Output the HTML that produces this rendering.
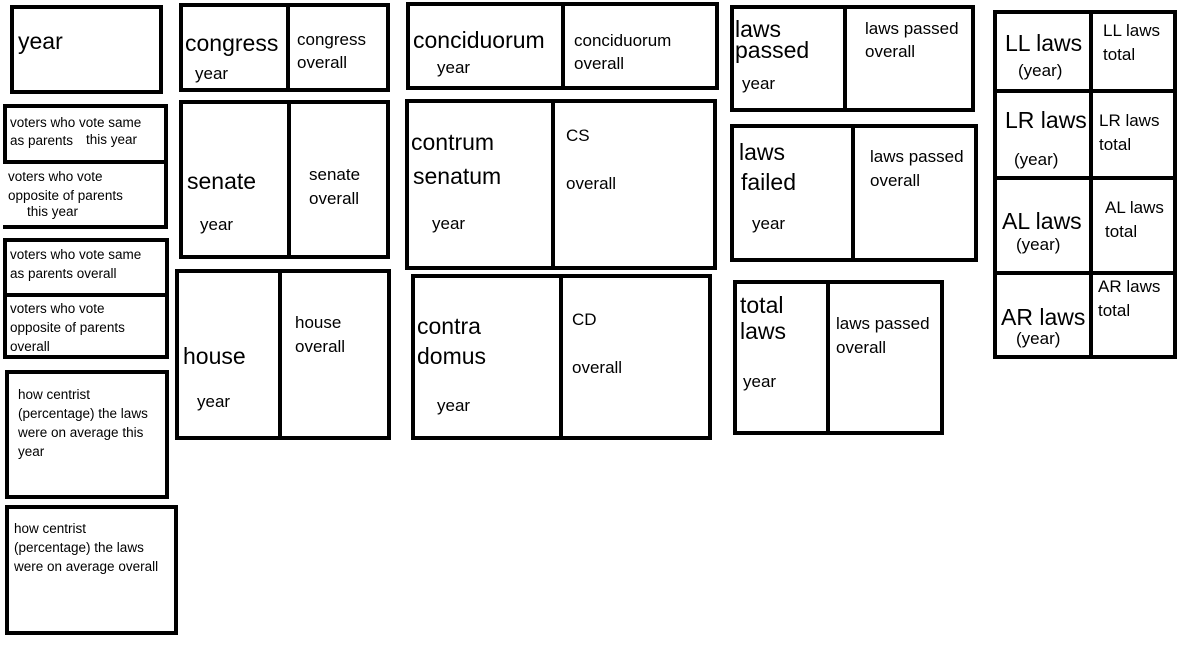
<!DOCTYPE html>
<html><head><meta charset="utf-8"><style>
body{margin:0;width:1185px;height:648px;background:#fff;position:relative;overflow:hidden;font-family:"Liberation Sans",sans-serif;color:#000}
.b{position:absolute;border:4px solid #000;box-sizing:border-box}
.v{position:absolute;width:4px;background:#000}
.h{position:absolute;height:4px;background:#000}
.t{position:absolute;line-height:1;white-space:nowrap}
.L{font-size:23px}.M{font-size:17px}.S{font-size:13.5px}
</style></head><body>
<!-- year -->
<div class="b" style="left:10px;top:5px;width:153px;height:89px"></div>
<div class="t L" style="left:18px;top:30px">year</div>
<!-- congress -->
<div class="b" style="left:179px;top:3px;width:211px;height:89px"></div>
<div class="v" style="left:286px;top:3px;height:89px"></div>
<div class="t L" style="left:185px;top:32px">congress</div>
<div class="t M" style="left:195px;top:65px">year</div>
<div class="t M" style="left:297px;top:31px">congress</div>
<div class="t M" style="left:297px;top:54px">overall</div>
<!-- conciduorum -->
<div class="b" style="left:406px;top:2px;width:313px;height:88px"></div>
<div class="v" style="left:561px;top:2px;height:88px"></div>
<div class="t L" style="left:413px;top:29px">conciduorum</div>
<div class="t M" style="left:437px;top:59px">year</div>
<div class="t M" style="left:574px;top:32px">conciduorum</div>
<div class="t M" style="left:574px;top:55px">overall</div>
<!-- laws passed -->
<div class="b" style="left:730px;top:5px;width:245px;height:107px"></div>
<div class="v" style="left:843px;top:5px;height:107px"></div>
<div class="t L" style="left:735px;top:18px">laws</div>
<div class="t L" style="left:735px;top:39px">passed</div>
<div class="t M" style="left:742px;top:75px">year</div>
<div class="t M" style="left:865px;top:20px">laws passed</div>
<div class="t M" style="left:865px;top:43px">overall</div>
<!-- LL grid -->
<div class="b" style="left:993px;top:10px;width:184px;height:349px"></div>
<div class="v" style="left:1089px;top:10px;height:349px"></div>
<div class="h" style="left:993px;top:89px;width:184px"></div>
<div class="h" style="left:993px;top:176px;width:184px"></div>
<div class="h" style="left:993px;top:271px;width:184px"></div>
<div class="t L" style="left:1005px;top:32px">LL laws</div>
<div class="t M" style="left:1018px;top:62px">(year)</div>
<div class="t M" style="left:1103px;top:22px">LL laws</div>
<div class="t M" style="left:1103px;top:46px">total</div>
<div class="t L" style="left:1005px;top:109px">LR laws</div>
<div class="t M" style="left:1014px;top:151px">(year)</div>
<div class="t M" style="left:1099px;top:112px">LR laws</div>
<div class="t M" style="left:1099px;top:136px">total</div>
<div class="t L" style="left:1002px;top:210px">AL laws</div>
<div class="t M" style="left:1016px;top:236px">(year)</div>
<div class="t M" style="left:1105px;top:199px">AL laws</div>
<div class="t M" style="left:1105px;top:223px">total</div>
<div class="t L" style="left:1001px;top:306px">AR laws</div>
<div class="t M" style="left:1016px;top:330px">(year)</div>
<div class="t M" style="left:1098px;top:278px">AR laws</div>
<div class="t M" style="left:1098px;top:302px">total</div>
<!-- voters 1 -->
<div class="b" style="left:3px;top:104px;width:165px;height:60px;border-bottom:none"></div>
<div class="b" style="left:3px;top:160px;width:165px;height:69px;border-left:none"></div>
<div class="t S" style="left:10px;top:116px">voters who vote same</div>
<div class="t S" style="left:10px;top:134px">as parents</div>
<div class="t S" style="left:86px;top:133px">this year</div>
<div class="t S" style="left:8px;top:170px">voters who vote</div>
<div class="t S" style="left:8px;top:189px">opposite of parents</div>
<div class="t S" style="left:27px;top:205px">this year</div>
<!-- voters 2 -->
<div class="b" style="left:3px;top:238px;width:166px;height:121px"></div>
<div class="h" style="left:3px;top:293px;width:166px"></div>
<div class="t S" style="left:10px;top:248px">voters who vote same</div>
<div class="t S" style="left:10px;top:267px">as parents overall</div>
<div class="t S" style="left:10px;top:302px">voters who vote</div>
<div class="t S" style="left:10px;top:321px">opposite of parents</div>
<div class="t S" style="left:10px;top:340px">overall</div>
<!-- centrist -->
<div class="b" style="left:5px;top:370px;width:164px;height:129px"></div>
<div class="t S" style="left:18px;top:388px">how centrist</div>
<div class="t S" style="left:18px;top:407px">(percentage) the laws</div>
<div class="t S" style="left:18px;top:426px">were on average this</div>
<div class="t S" style="left:18px;top:445px">year</div>
<div class="b" style="left:5px;top:505px;width:173px;height:130px"></div>
<div class="t S" style="left:14px;top:522px">how centrist</div>
<div class="t S" style="left:14px;top:541px">(percentage) the laws</div>
<div class="t S" style="left:14px;top:560px">were on average overall</div>
<!-- senate -->
<div class="b" style="left:179px;top:100px;width:211px;height:159px"></div>
<div class="v" style="left:287px;top:100px;height:159px"></div>
<div class="t L" style="left:187px;top:170px">senate</div>
<div class="t M" style="left:200px;top:216px">year</div>
<div class="t M" style="left:309px;top:166px">senate</div>
<div class="t M" style="left:309px;top:190px">overall</div>
<!-- house -->
<div class="b" style="left:175px;top:269px;width:216px;height:171px"></div>
<div class="v" style="left:278px;top:269px;height:171px"></div>
<div class="t L" style="left:183px;top:345px">house</div>
<div class="t M" style="left:197px;top:393px">year</div>
<div class="t M" style="left:295px;top:314px">house</div>
<div class="t M" style="left:295px;top:338px">overall</div>
<!-- contrum senatum -->
<div class="b" style="left:405px;top:99px;width:312px;height:171px"></div>
<div class="v" style="left:551px;top:99px;height:171px"></div>
<div class="t L" style="left:411px;top:131px">contrum</div>
<div class="t L" style="left:413px;top:165px">senatum</div>
<div class="t M" style="left:432px;top:215px">year</div>
<div class="t M" style="left:566px;top:127px">CS</div>
<div class="t M" style="left:566px;top:175px">overall</div>
<!-- contra domus -->
<div class="b" style="left:411px;top:274px;width:301px;height:166px"></div>
<div class="v" style="left:559px;top:274px;height:166px"></div>
<div class="t L" style="left:417px;top:315px">contra</div>
<div class="t L" style="left:417px;top:345px">domus</div>
<div class="t M" style="left:437px;top:397px">year</div>
<div class="t M" style="left:572px;top:311px">CD</div>
<div class="t M" style="left:572px;top:359px">overall</div>
<!-- laws failed -->
<div class="b" style="left:730px;top:124px;width:248px;height:138px"></div>
<div class="v" style="left:851px;top:124px;height:138px"></div>
<div class="t L" style="left:739px;top:141px">laws</div>
<div class="t L" style="left:741px;top:171px">failed</div>
<div class="t M" style="left:752px;top:215px">year</div>
<div class="t M" style="left:870px;top:148px">laws passed</div>
<div class="t M" style="left:870px;top:172px">overall</div>
<!-- total laws -->
<div class="b" style="left:733px;top:280px;width:211px;height:155px"></div>
<div class="v" style="left:826px;top:280px;height:155px"></div>
<div class="t L" style="left:740px;top:294px">total</div>
<div class="t L" style="left:740px;top:320px">laws</div>
<div class="t M" style="left:743px;top:373px">year</div>
<div class="t M" style="left:836px;top:315px">laws passed</div>
<div class="t M" style="left:836px;top:339px">overall</div>
</body></html>
